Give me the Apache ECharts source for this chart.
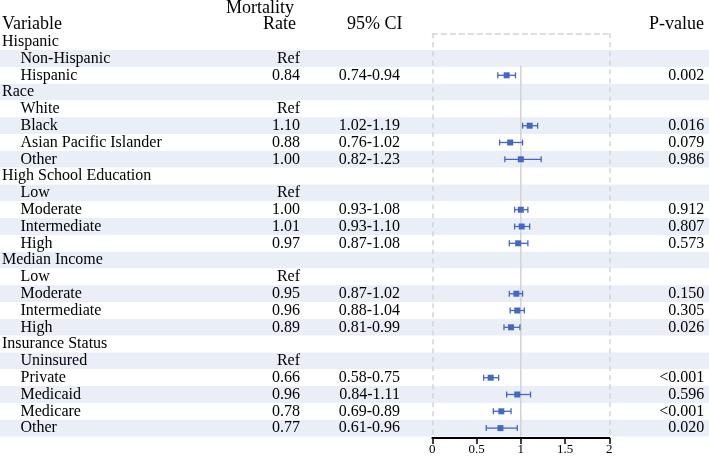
<!DOCTYPE html>
<html>
<head>
<meta charset="utf-8">
<script src="https://cdn.jsdelivr.net/npm/echarts@6/dist/echarts.min.js"></script>
<style>
html, body { margin: 0; padding: 0; background: #fff; }
#chart { width: 709px; height: 458px; }
</style>
</head>
<body>
<div id="chart"></div>
<script>
// rows of the table, top to bottom
var labels = ['Hispanic', 'Non-Hispanic', 'Hispanic', 'Race', 'White', 'Black', 'Asian Pacific Islander', 'Other',
    'High School Education', 'Low', 'Moderate', 'Intermediate', 'High', 'Median Income', 'Low', 'Moderate',
    'Intermediate', 'High', 'Insurance Status', 'Uninsured', 'Private', 'Medicaid', 'Medicare', 'Other']
// 0 = group header, 1 = sub item
var levels = [0, 1, 1, 0, 1, 1, 1, 1, 0, 1, 1, 1, 1, 0, 1, 1, 1, 1, 0, 1, 1, 1, 1, 1]
var rateText = ['', 'Ref', '0.84', '', 'Ref', '1.10', '0.88', '1.00', '', 'Ref', '1.00', '1.01', '0.97', '',
    'Ref', '0.95', '0.96', '0.89', '', 'Ref', '0.66', '0.96', '0.78', '0.77']
var ciText = ['', '', '0.74-0.94', '', '', '1.02-1.19', '0.76-1.02', '0.82-1.23', '', '', '0.93-1.08', '0.93-1.10',
    '0.87-1.08', '', '', '0.87-1.02', '0.88-1.04', '0.81-0.99', '', '', '0.58-0.75', '0.84-1.11', '0.69-0.89', '0.61-0.96']
var pText = ['', '', '0.002', '', '', '0.016', '0.079', '0.986', '', '', '0.912', '0.807', '0.573', '', '',
    '0.150', '0.305', '0.026', '', '', '<0.001', '0.596', '<0.001', '0.020']
var est = [null, null, 0.84, null, null, 1.10, 0.88, 1.00, null, null, 1.00, 1.01, 0.97, null, null, 0.95, 0.96,
    0.89, null, null, 0.66, 0.96, 0.78, 0.77]
var ciLow = [null, null, 0.74, null, null, 1.02, 0.76, 0.82, null, null, 0.93, 0.93, 0.87, null, null, 0.87, 0.88,
    0.81, null, null, 0.58, 0.84, 0.69, 0.61]
var ciHigh = [null, null, 0.94, null, null, 1.19, 1.02, 1.23, null, null, 1.08, 1.10, 1.08, null, null, 1.02, 1.04,
    0.99, null, null, 0.75, 1.11, 0.89, 0.96]
var xTicks = [0, 0.5, 1, 1.5, 2]

var FONT = 'Liberation Serif'
var INK = '#000'
var BLUE = '#4466c4'
var idx = labels.map(function (_, i) { return String(i) })

var pointData = []
var barData = []
est.forEach(function (v, i) {
    if (v !== null) {
        pointData.push([v, i])
        barData.push([ciLow[i], ciHigh[i], i])
    }
})

var myChart = echarts.init(document.getElementById('chart'))

// y axes that only carry a text column
function textAxis(texts, position, offset, align, margin, rich) {
    return {
        type: 'category',
        gridIndex: 1,
        data: idx,
        inverse: true,
        position: position,
        offset: offset,
        axisLine: { show: false },
        axisTick: { show: false },
        splitLine: { show: false },
        axisLabel: {
            interval: 0,
            margin: margin,
            align: align,
            color: INK,
            fontFamily: FONT,
            fontSize: 16,
            formatter: function (v, i) {
                if (rich) return '{l' + levels[i] + '|' + texts[i] + '}'
                return texts[i]
            },
            rich: rich
        }
    }
}

function header(text, x, y, align) {
    return {
        type: 'text', x: x, y: y,
        style: { text: text, font: '18px ' + FONT, fill: INK, align: align, verticalAlign: 'middle' }
    }
}

var option = {
    animation: false,
    grid: [
        // full width background for the stripes
        { left: 0, right: 0, top: 33.3, height: 403.2, outerBoundsMode: 'none' },
        // forest plot
        { left: 432.3, width: 177, top: 33.3, height: 403.2, outerBoundsMode: 'none' }
    ],
    xAxis: [
        { type: 'value', gridIndex: 0, min: 0, max: 1, show: false },
        {
            type: 'value', gridIndex: 1, min: 0, max: 2, interval: 0.5, offset: 1.5,
            axisLine: { show: true, onZero: false, lineStyle: { color: '#000', width: 1.8 } },
            axisTick: { show: true, inside: false, length: 6, lineStyle: { color: '#000', width: 1.5 } },
            splitLine: { show: false },
            axisLabel: {
                color: INK, fontFamily: FONT, fontSize: 13, margin: 5,
                formatter: function (v) { return xTicks.indexOf(v) >= 0 ? String(v) : '' }
            }
        },
        {
            // dashed frame: top edge and the lines at 0 and 2
            type: 'value', gridIndex: 1, position: 'top', min: 0, max: 2, interval: 2,
            axisLine: { show: true, lineStyle: { color: '#d4d4d4', width: 1.5, type: [5, 4] } },
            axisTick: { show: false },
            axisLabel: { show: false },
            splitLine: { show: true, lineStyle: { color: '#d4d4d4', width: 1.5, type: [5, 4] } }
        }
    ],
    yAxis: [
        {
            type: 'category', gridIndex: 0, data: idx, inverse: true, show: true,
            axisLine: { show: false }, axisTick: { show: false }, axisLabel: { show: false },
            splitLine: { show: false },
            splitArea: { show: true, interval: 0, areaStyle: { color: ['#ffffff', '#eaeff7'] } }
        },
        textAxis(labels, 'left', 0, 'left', 430.3, { l0: {}, l1: { padding: [0, 0, 0, 18.5] } }),
        textAxis(rateText, 'left', 132.3, 'right', 0),
        textAxis(ciText, 'left', 32.3, 'right', 0),
        textAxis(pText, 'right', 95, 'right', 0)
    ],
    graphic: [
        header('Variable', 2, 24.6, 'left'),
        header('Mortality', 294, 8, 'right'),
        header('Rate', 296, 24.6, 'right'),
        header('95% CI', 402.5, 24.6, 'right'),
        header('P-value', 704, 24.6, 'right')
    ],
    series: [
        {
            // reference line at 1, from the first data row down to the axis
            type: 'custom',
            xAxisIndex: 1,
            yAxisIndex: 1,
            data: [[1, 2]],
            z: 1,
            silent: true,
            renderItem: function (params, api) {
                var top = api.coord([api.value(0), api.value(1)])
                var bottom = api.coord([api.value(0), labels.length - 1])
                var band = api.size([0, 1])[1]
                return {
                    type: 'line',
                    shape: { x1: top[0], y1: top[1] - band / 2 - 1.5, x2: bottom[0], y2: bottom[1] + band / 2 },
                    style: { stroke: '#d2d2d2', lineWidth: 1.5 }
                }
            }
        },
        {
            // confidence intervals with end caps
            type: 'custom',
            xAxisIndex: 1,
            yAxisIndex: 1,
            data: barData,
            z: 3,
            renderItem: function (params, api) {
                var a = api.coord([api.value(0), api.value(2)])
                var b = api.coord([api.value(1), api.value(2)])
                var h = 3
                var st = { stroke: BLUE, lineWidth: 1.3 }
                return {
                    type: 'group',
                    children: [
                        { type: 'line', shape: { x1: a[0], y1: a[1], x2: b[0], y2: b[1] }, style: st },
                        { type: 'line', shape: { x1: a[0], y1: a[1] - h, x2: a[0], y2: a[1] + h }, style: st },
                        { type: 'line', shape: { x1: b[0], y1: b[1] - h, x2: b[0], y2: b[1] + h }, style: st }
                    ]
                }
            }
        },
        {
            type: 'scatter',
            xAxisIndex: 1,
            yAxisIndex: 1,
            data: pointData,
            symbol: 'rect',
            symbolSize: 6,
            z: 4,
            itemStyle: { color: BLUE, opacity: 1 }
        }
    ]
}
myChart.setOption(option)
</script>
</body>
</html>
